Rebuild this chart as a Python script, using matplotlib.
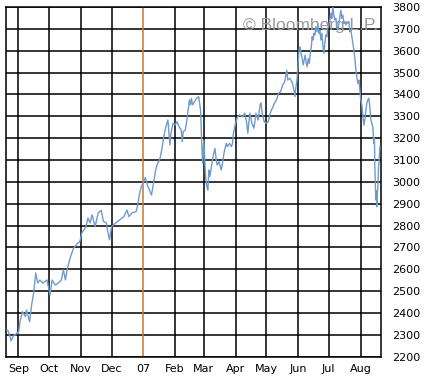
import datetime as dt
import matplotlib
matplotlib.use("Agg")
import matplotlib.pyplot as plt
import matplotlib.dates as mdates

# days after 2006-08-20 and index level
days = [1, 2, 4, 5, 7, 9, 11, 12, 14, 16, 19, 20, 23, 25, 27, 29, 31, 33, 36, 40,
        43, 45, 48, 51, 54, 56, 58, 60, 63, 66, 70, 72, 74, 76, 78, 80, 82, 84, 87, 90,
        93, 95, 98, 99, 101, 103, 107, 111, 115, 118, 120, 123, 127, 129, 130, 132, 134, 136, 138, 140,
        142, 144, 146, 148, 150, 152, 154, 156, 158, 160, 161, 163, 165, 167, 169, 171, 172, 173, 175, 177,
        179, 180, 181, 182, 184, 186, 188, 189, 190, 191, 192, 193, 194, 195, 196, 197, 198, 199, 201, 202,
        204, 205, 206, 208, 210, 211, 213, 215, 216, 218, 220, 221, 222, 224, 226, 228, 231, 233, 235, 236,
        237, 238, 240, 242, 244, 246, 248, 249, 250, 252, 254, 256, 258, 259, 260, 262, 264, 266, 268, 270,
        272, 274, 275, 277, 279, 280, 281, 282, 283, 284, 285, 286, 287, 288, 289, 290, 291, 292, 293, 294,
        295, 296, 297, 298, 298.8, 299.6, 300.5, 301.5, 302.4, 303.4, 304.4, 305.4, 306.3, 307.3, 308.3, 309.3, 310.2, 311.2,
        312.2, 313.2, 314.1, 315.1, 316.1, 317.1, 318.0, 319.0, 320.0, 321.0, 321.9, 322.9, 323.9, 324.9,
        325.9, 326.8, 327.8, 328.8, 329.8, 330.7, 331.7, 332.7, 333.7, 334.6, 335.6, 336.6, 337.6, 338.5,
        339.5, 340.5, 341.5, 342.4, 343.4, 344.4, 345.4, 346.3, 347.3, 348.3, 349.3, 350.2, 351.2, 352.2,
        353.2, 354.1, 355.1, 356.1, 357.1, 358.0, 359.0, 359.6, 360.0, 360.5, 361.0, 361.5, 361.9, 362.4,
        362.9, 363.6, 364.2, 364.9]
values = [2322, 2318, 2290, 2272, 2295, 2300, 2310, 2305, 2368, 2406, 2383, 2414, 2360, 2437, 2492, 2583, 2537, 2551, 2537, 2551,
          2483, 2551, 2528, 2537, 2551, 2597, 2551, 2606, 2658, 2697, 2720, 2726, 2766, 2780, 2795, 2835, 2812, 2849, 2795, 2858,
          2870, 2819, 2812, 2780, 2735, 2795, 2812, 2826, 2841, 2871, 2841, 2858, 2864, 2903, 2940, 2978, 2995, 3020, 2985, 2963,
          2940, 2993, 3054, 3085, 3100, 3146, 3207, 3252, 3283, 3169, 3222, 3268, 3260, 3275, 3252, 3237, 3184, 3230, 3237, 3298,
          3375, 3352, 3382, 3352, 3367, 3382, 3390, 3360, 3321, 3176, 3085, 3191, 3100, 3009, 2978, 2963, 3054, 3024, 3085, 3115,
          3153, 3108, 3077, 3092, 3054, 3077, 3138, 3176, 3161, 3176, 3161, 3176, 3222, 3268, 3298, 3306, 3298, 3314, 3268, 3222,
          3268, 3314, 3268, 3245, 3314, 3283, 3352, 3360, 3314, 3275, 3268, 3275, 3314, 3329, 3337, 3360, 3375, 3405, 3413, 3443,
          3458, 3511, 3466, 3474, 3458, 3443, 3420, 3390, 3435, 3466, 3535, 3603, 3618, 3588, 3565, 3535, 3558, 3580, 3542, 3527,
          3565, 3542, 3588, 3618, 3664, 3649, 3680, 3672, 3710, 3687, 3718, 3680, 3695, 3649, 3680, 3626, 3588, 3634,
          3672, 3664, 3702, 3718, 3741, 3771, 3748, 3800, 3763, 3741, 3748, 3710, 3695, 3725,
          3756, 3786, 3748, 3763, 3725, 3733, 3718, 3733, 3725, 3733, 3687, 3695, 3664, 3634,
          3603, 3565, 3512, 3481, 3451, 3466, 3420, 3375, 3352, 3298, 3260, 3283, 3329, 3360,
          3375, 3382, 3344, 3283, 3268, 3252, 3176, 3200, 3069, 2978, 2917, 2960, 2886, 2940,
          2978, 3069, 3100, 3161]

start = dt.date(2006, 8, 20)
month_starts = [dt.date(2006, m, 1) for m in range(9, 13)] + [dt.date(2007, m, 1) for m in range(1, 9)]
month_labels = ["Sep", "Oct", "Nov", "Dec", "07", "Feb", "Mar", "Apr", "May", "Jun", "Jul", "Aug"]
y_ticks = list(range(2200, 3900, 100))

x0 = mdates.date2num(start)
x = [x0 + d for d in days]
month_x = [mdates.date2num(m) for m in month_starts]

fig = plt.figure(figsize=(4.25, 3.77), dpi=100)
ax = fig.add_axes([6 / 425, 1 - 356.7 / 377, 375 / 425, 349.7 / 377])

# grid
for yv in y_ticks:
    ax.axhline(yv, color="black", lw=1.1, zorder=1)
for mx, lab in zip(month_x, month_labels):
    c = "#c8782a" if lab == "07" else "black"
    ax.axvline(mx, color=c, lw=1.1, zorder=1)

ax.text(0.993, 0.968, "\u00a9 Bloomberg L.P.", transform=ax.transAxes, ha="right", va="top",
        fontsize=12.5, color="#999999", family="Liberation Sans", zorder=2)

ax.plot(x, values, color="#6f9bcc", lw=1.0, zorder=3)

ax.set_xlim(x0, x0 + 366)
ax.set_ylim(2200, 3800)
ax.set_xticks(month_x)
ax.set_xticklabels(month_labels)
ax.set_yticks(y_ticks)
ax.yaxis.tick_right()
ax.tick_params(length=0, labelsize=8, colors="black")
ax.tick_params(axis="y", pad=8)
ax.tick_params(axis="x", pad=5)
for s in ax.spines.values():
    s.set_color("black")
    s.set_linewidth(1.1)

fig.savefig("out.png", dpi=100)
